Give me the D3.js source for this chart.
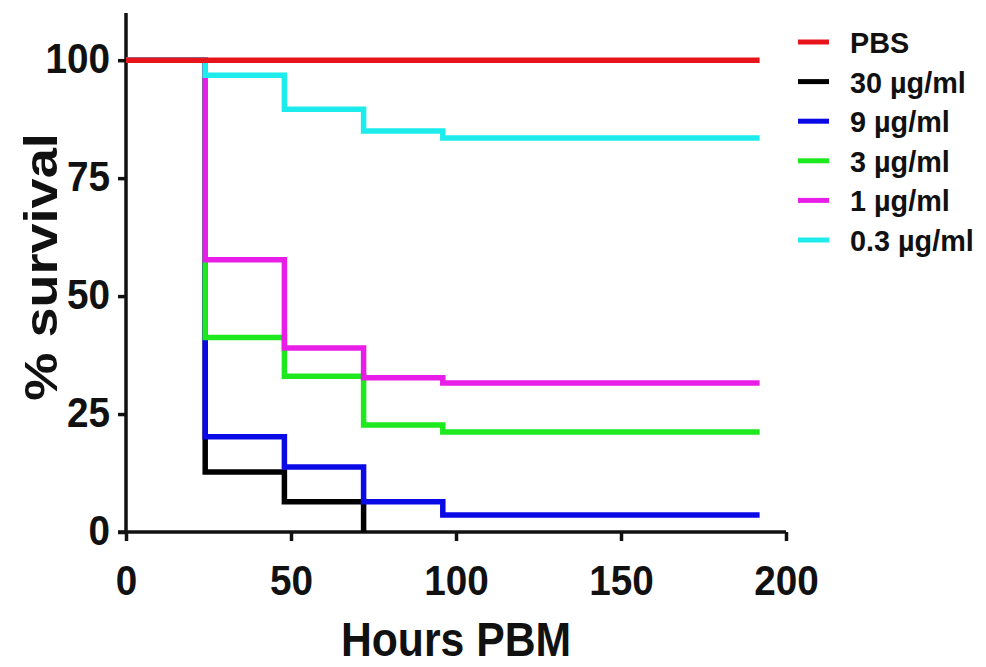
<!DOCTYPE html>
<html>
<head>
<meta charset="utf-8">
<script src="https://cdn.jsdelivr.net/npm/d3@7"></script>
<style>
  html, body { margin: 0; padding: 0; background: #fff; }
  svg { display: block; }
  text { font-family: "Liberation Sans", Arial, sans-serif; font-weight: bold; fill: #111; }
</style>
</head>
<body>
<svg id="chart" width="986" height="667"></svg>
<script>
// Survival (%) over hours post blood meal, per treatment group
const seriesNames = ["PBS", "30 µg/ml", "9 µg/ml", "3 µg/ml", "1 µg/ml", "0.3 µg/ml"];
const seriesColors = ["#e8141c", "#000000", "#0a0ae6", "#1ee81e", "#e81ee8", "#1eecec"];

const hoursPBS = [0, 192];
const survivalPBS = [100, 100];
const hours30 = [0, 24, 48, 72];
const survival30 = [100, 12.7, 6.4, 0];
const hours9 = [0, 24, 48, 72, 96, 192];
const survival9 = [100, 20.2, 13.8, 6.4, 3.6, 3.6];
const hours3 = [0, 24, 48, 72, 96, 192];
const survival3 = [100, 41.2, 33.0, 22.7, 21.2, 21.2];
const hours1 = [0, 24, 48, 72, 96, 192];
const survival1 = [100, 57.7, 39.0, 32.7, 31.6, 31.6];
const hours03 = [0, 24, 48, 72, 96, 192];
const survival03 = [100, 96.8, 89.6, 85.0, 83.5, 83.5];

const xTicks = [0, 50, 100, 150, 200];
const yTicks = [0, 25, 50, 75, 100];

const seriesHours = [hoursPBS, hours30, hours9, hours3, hours1, hours03];
const seriesSurvival = [survivalPBS, survival30, survival9, survival3, survival1, survival03];

const series = seriesNames.map((name, i) => ({
  name,
  color: seriesColors[i],
  points: seriesHours[i].map((h, j) => [h, seriesSurvival[i][j]])
}));

const svg = d3.select("#chart");

// narrow the glyphs of a text selection to a fraction of their natural width
function squeeze(sel, factor) {
  sel.each(function () {
    const w = this.getComputedTextLength();
    d3.select(this)
      .attr("textLength", (w * factor).toFixed(1))
      .attr("lengthAdjust", "spacingAndGlyphs");
  });
}

const x = d3.scaleLinear().domain([0, 200]).range([126, 786]);
const y = d3.scaleLinear().domain([0, 110]).range([532, 13]);

// axes
const xAxis = svg.append("g")
  .attr("transform", `translate(0,${y(0)})`)
  .call(d3.axisBottom(x).tickValues(xTicks).tickSize(9).tickSizeOuter(0));
const yAxis = svg.append("g")
  .attr("transform", `translate(${x(0)},0)`)
  .call(d3.axisLeft(y).tickValues(yTicks).tickSize(8).tickPadding(8).tickSizeOuter(0));

[xAxis, yAxis].forEach(g => {
  g.select(".domain").attr("stroke", "#111").attr("stroke-width", 3.5);
  g.selectAll(".tick line").attr("stroke", "#111").attr("stroke-width", 3.5);
  g.selectAll(".tick text")
    .attr("fill", "#111")
    .style("font-family", "'Liberation Sans', Arial, sans-serif")
    .style("font-weight", "bold")
    .style("font-size", "43px");
});
// x axis line extends slightly left to meet the y tick at 0
xAxis.select(".domain").attr("d", `M${x(0) - 8},0H${x(200)}`);
yAxis.select(".domain").attr("d", `M0,${y(0) + 2}V${y(110)}`);
xAxis.selectAll(".tick text").attr("y", 0).attr("dy", 63);
yAxis.selectAll(".tick text").attr("dy", "0.28em");
squeeze(xAxis.selectAll(".tick text"), 0.9);
squeeze(yAxis.selectAll(".tick text"), 0.9);

// survival step curves: PBS drawn last so it sits on top
const line = d3.line()
  .x(d => x(d[0]))
  .y(d => y(d[1]))
  .curve(d3.curveStepAfter);

const drawOrder = [1, 2, 3, 4, 5, 0];
svg.append("g")
  .selectAll("path")
  .data(drawOrder.map(i => series[i]))
  .join("path")
  .attr("d", d => line(d.points))
  .attr("fill", "none")
  .attr("stroke", d => d.color)
  .attr("stroke-width", 5.5)
  .attr("stroke-linejoin", "miter")
  .attr("stroke-linecap", "butt");

// axis titles
const xTitle = svg.append("text")
  .attr("x", (x(0) + x(200)) / 2)
  .attr("y", 656)
  .attr("text-anchor", "middle")
  .style("font-size", "48px")
  .text("Hours PBM");
squeeze(xTitle, 0.89);

const yTitle = svg.append("text")
  .attr("transform", `translate(57,267) rotate(-90)`)
  .attr("text-anchor", "middle")
  .style("font-size", "47px")
  .text("% survival");
squeeze(yTitle, 1.15);

// legend
const legend = svg.append("g");
const rows = legend.selectAll("g")
  .data(series)
  .join("g")
  .attr("transform", (d, i) => `translate(0,${42 + i * 39.6})`);
rows.append("line")
  .attr("x1", 798).attr("x2", 829)
  .attr("y1", 0).attr("y2", 0)
  .attr("stroke", d => d.color)
  .attr("stroke-width", 5);
const legendText = rows.append("text")
  .attr("x", 850)
  .attr("y", 11)
  .style("font-size", "30px")
  .text(d => d.name);
squeeze(legendText, 0.96);
</script>
</body>
</html>
